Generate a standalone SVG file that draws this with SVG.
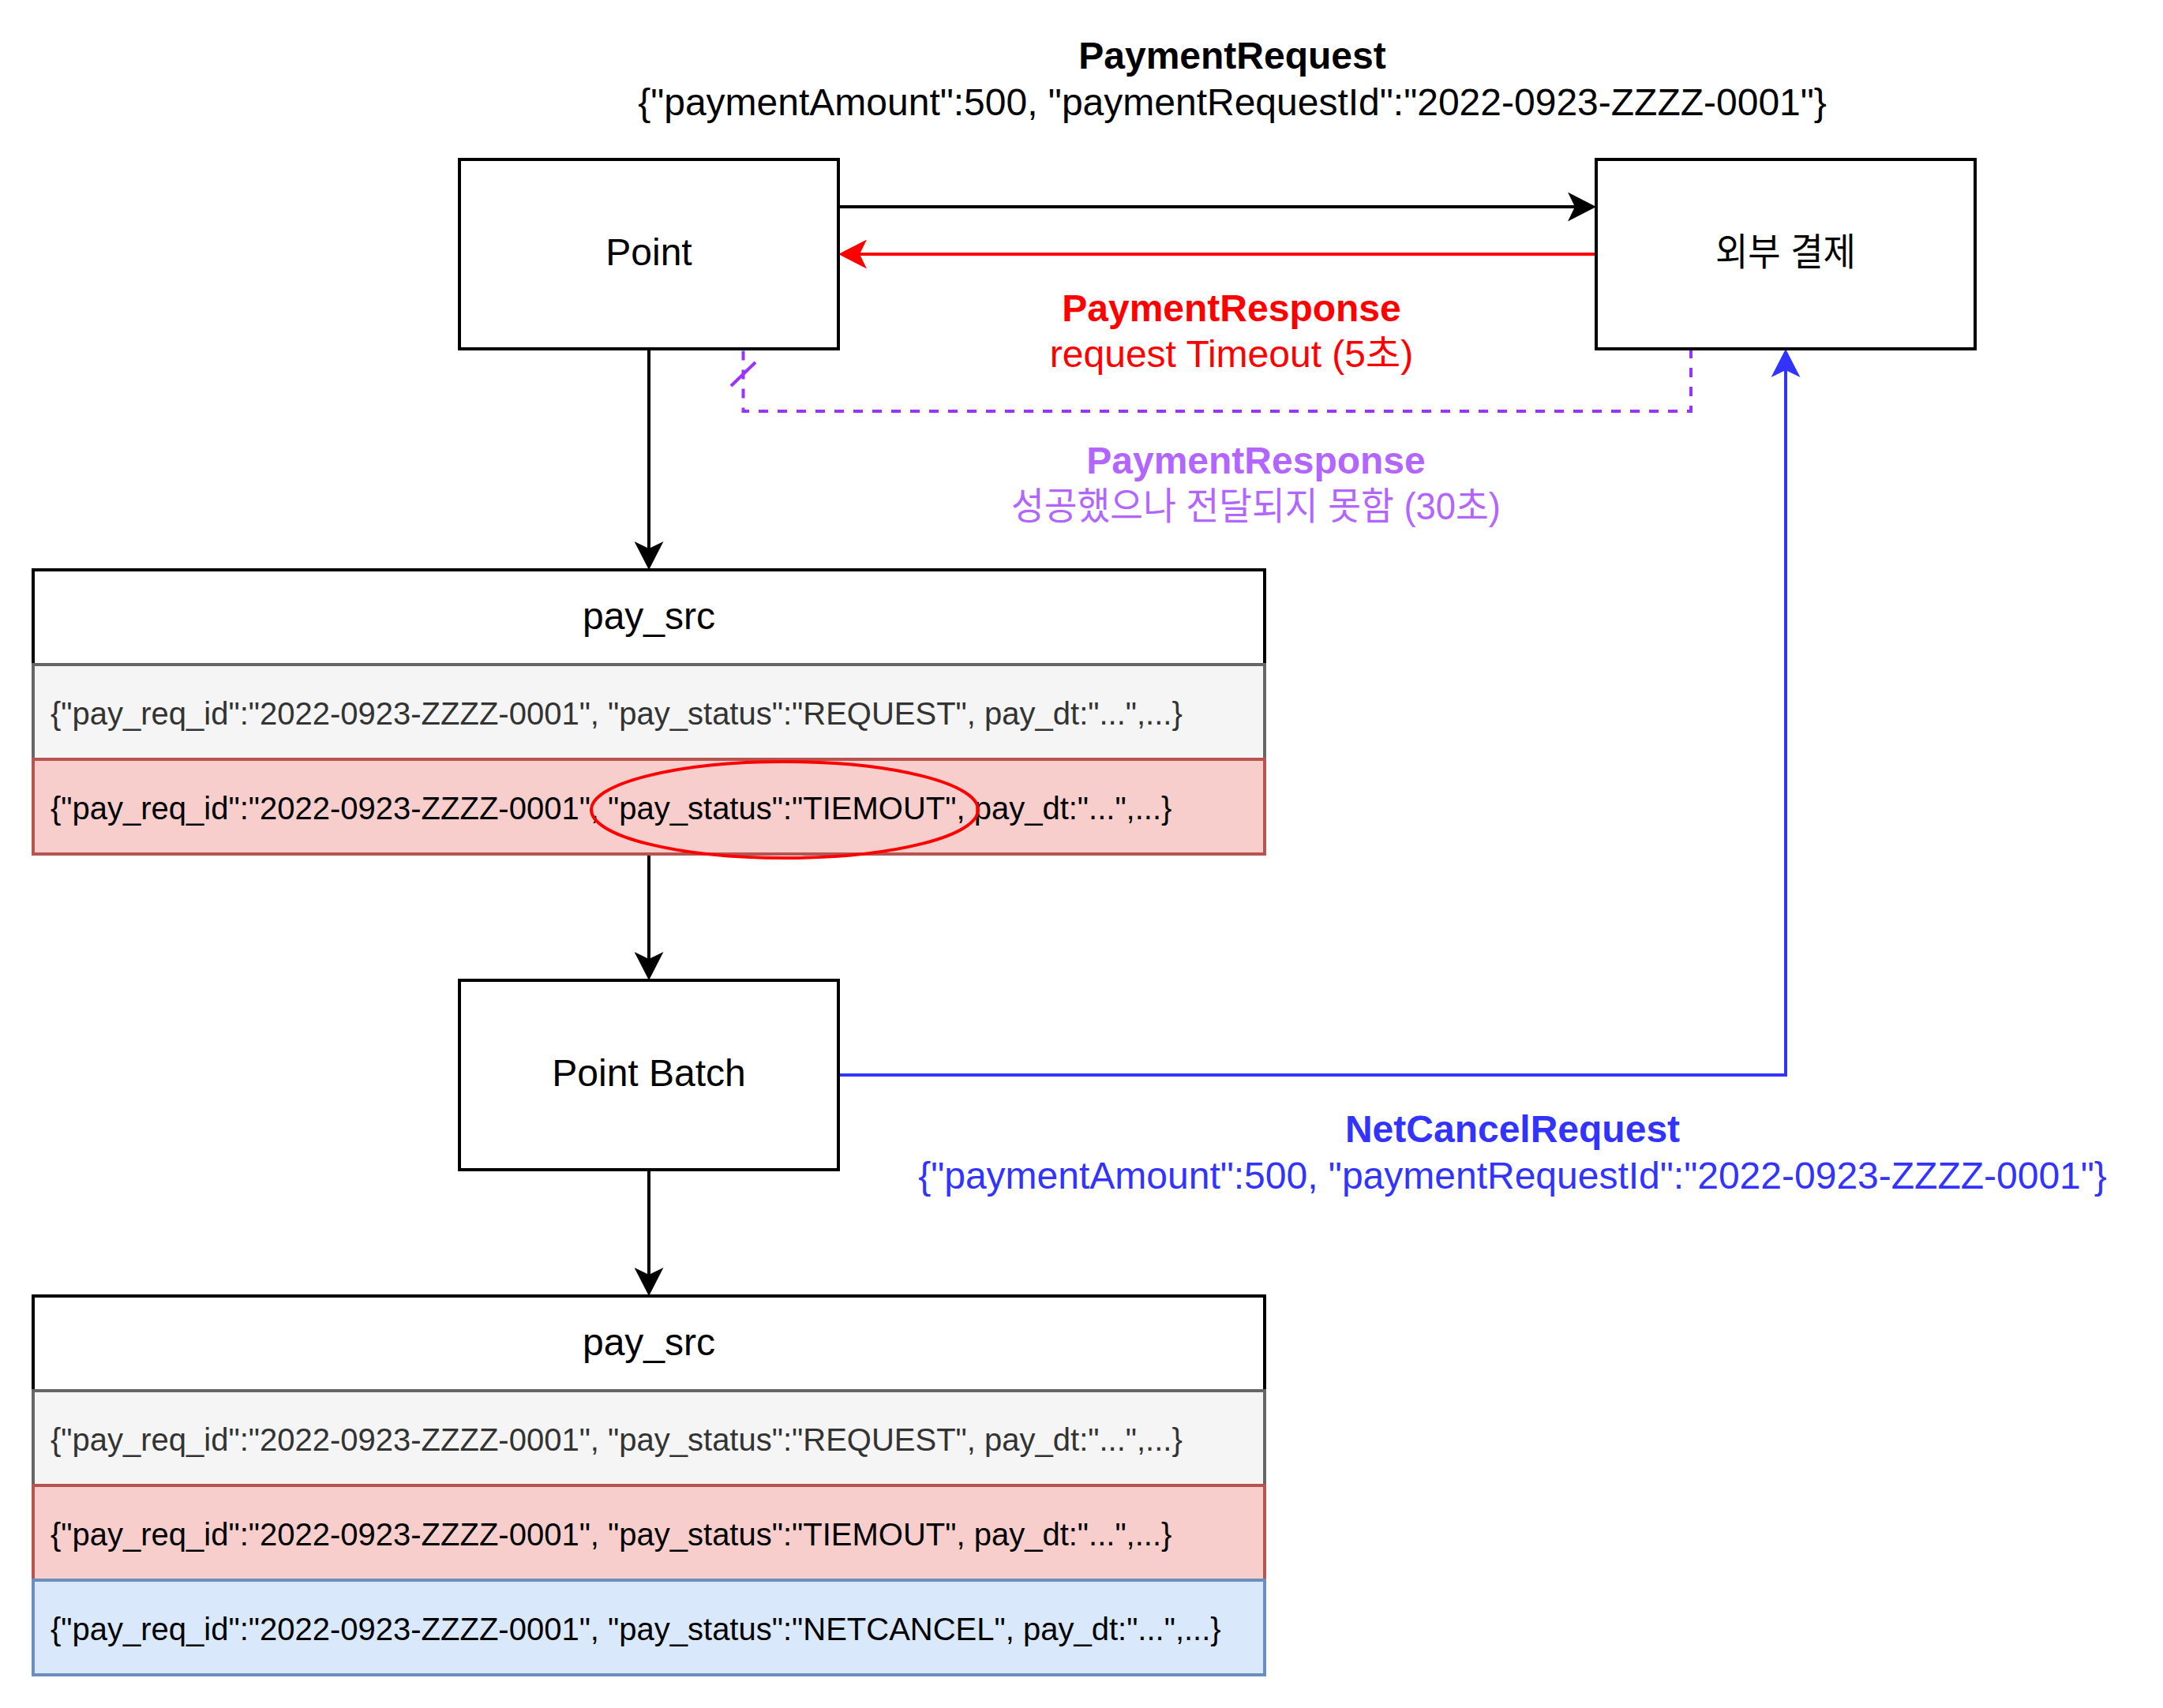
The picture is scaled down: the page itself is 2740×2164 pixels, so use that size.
<svg xmlns="http://www.w3.org/2000/svg" width="2740" height="2164" viewBox="0 0 2740 2164">
<style>
text{font-family:"Liberation Sans","Noto Sans CJK KR",sans-serif;}
.box{fill:#ffffff;stroke:#000000;stroke-width:4;}
.lbl{font-size:48px;fill:#000000;text-anchor:middle;}
.row{font-size:40px;}
.hdr{fill:#ffffff;stroke:#000000;stroke-width:4;}
.r1{fill:#f5f5f5;stroke:#666666;stroke-width:4;}
.r2{fill:#f8cecc;stroke:#b85450;stroke-width:4;}
.r3{fill:#dae8fc;stroke:#6c8ebf;stroke-width:4;}
.edge{fill:none;stroke-width:4;}
.cap{font-size:48px;text-anchor:middle;}
.b{font-weight:bold;}
</style>
<defs>
<marker id="arrowBlack" markerUnits="userSpaceOnUse" viewBox="0 0 36 37" markerWidth="36" markerHeight="37" refX="26" refY="18.5" orient="auto"><path d="M0,0 L36,18.5 L0,37 L9,18.5 Z" fill="#000000"/></marker>
<marker id="arrowRed" markerUnits="userSpaceOnUse" viewBox="0 0 36 37" markerWidth="36" markerHeight="37" refX="26" refY="18.5" orient="auto"><path d="M0,0 L36,18.5 L0,37 L9,18.5 Z" fill="#ff0000"/></marker>
<marker id="arrowBlue" markerUnits="userSpaceOnUse" viewBox="0 0 36 37" markerWidth="36" markerHeight="37" refX="26" refY="18.5" orient="auto"><path d="M0,0 L36,18.5 L0,37 L9,18.5 Z" fill="#3333ff"/></marker>
<marker id="slashPurple" markerUnits="userSpaceOnUse" viewBox="0 0 60 40" markerWidth="60" markerHeight="40" refX="50" refY="20" orient="auto"><path d="M3,4.5 L33,35.5" stroke="#9933ff" stroke-width="4" fill="none" stroke-dasharray="none"/></marker>
</defs>
<rect x="0" y="0" width="2740" height="2164" fill="#ffffff"/>

<g id="connectors">
<path class="edge" d="M1062,262 H2012" stroke="#000000" marker-end="url(#arrowBlack)"/>
<path class="edge" d="M2022,322 H1072" stroke="#ff0000" marker-end="url(#arrowRed)"/>
<path class="edge" d="M2142,442 V521 H941.5 V442" stroke="#9933ff" stroke-dasharray="12 12" marker-end="url(#slashPurple)"/>
<path class="edge" d="M822,442 V712" stroke="#000000" marker-end="url(#arrowBlack)"/>
<path class="edge" d="M822,1082 V1232" stroke="#000000" marker-end="url(#arrowBlack)"/>
<path class="edge" d="M822,1482 V1632" stroke="#000000" marker-end="url(#arrowBlack)"/>
<path class="edge" d="M1062,1362 H2262 V452" stroke="#3333ff" marker-end="url(#arrowBlue)"/>
<g id="label-payment-request">
<text class="cap b" x="1561" y="87" fill="#000000">PaymentRequest</text>
<text class="cap" x="1561" y="146" fill="#000000">{"paymentAmount":500, "paymentRequestId":"2022-0923-ZZZZ-0001"}</text>
</g>
<g id="label-payment-response-timeout">
<text class="cap b" x="1560" y="407" fill="#ff0000">PaymentResponse</text>
<text class="cap" x="1560" y="465" fill="#ff0000">request Timeout (5초)</text>
</g>
<g id="label-payment-response-lost">
<text class="cap b" x="1591" y="600" fill="#b266ff">PaymentResponse</text>
<text class="cap" x="1591" y="658" fill="#b266ff" textLength="620" lengthAdjust="spacingAndGlyphs">성공했으나 전달되지 못함 (30초)</text>
</g>
<g id="label-netcancel">
<text class="cap b" x="1916" y="1447" fill="#3333ff">NetCancelRequest</text>
<text class="cap" x="1916" y="1506" fill="#3333ff">{"paymentAmount":500, "paymentRequestId":"2022-0923-ZZZZ-0001"}</text>
</g>
</g>

<g id="node-point">
<rect class="box" x="582" y="202" width="480" height="240"/>
<text class="lbl" x="822" y="336">Point</text>
</g>

<g id="node-external-payment">
<rect class="box" x="2022" y="202" width="480" height="240"/>
<text class="lbl" x="2262" y="336" textLength="178" lengthAdjust="spacingAndGlyphs">외부 결제</text>
</g>

<g id="node-pay-src-1">
<rect class="hdr" x="42" y="722" width="1560" height="120"/>
<text class="lbl" x="822" y="797">pay_src</text>
<rect class="r1" x="42" y="842" width="1560" height="120"/>
<text class="row" x="64" y="918" fill="#333333">{"pay_req_id":"2022-0923-ZZZZ-0001", "pay_status":"REQUEST", pay_dt:"...",...}</text>
<rect class="r2" x="42" y="962" width="1560" height="120"/>
<text class="row" x="64" y="1038" fill="#000000">{"pay_req_id":"2022-0923-ZZZZ-0001", "pay_status":"TIEMOUT", pay_dt:"...",...}</text>
</g>

<g id="highlight-timeout">
<ellipse cx="994" cy="1026" rx="245" ry="61" fill="none" stroke="#ff0000" stroke-width="4"/>
</g>

<g id="node-point-batch">
<rect class="box" x="582" y="1242" width="480" height="240"/>
<text class="lbl" x="822" y="1376">Point Batch</text>
</g>

<g id="node-pay-src-2">
<rect class="hdr" x="42" y="1642" width="1560" height="120"/>
<text class="lbl" x="822" y="1717">pay_src</text>
<rect class="r1" x="42" y="1762" width="1560" height="120"/>
<text class="row" x="64" y="1838" fill="#333333">{"pay_req_id":"2022-0923-ZZZZ-0001", "pay_status":"REQUEST", pay_dt:"...",...}</text>
<rect class="r2" x="42" y="1882" width="1560" height="120"/>
<text class="row" x="64" y="1958" fill="#000000">{"pay_req_id":"2022-0923-ZZZZ-0001", "pay_status":"TIEMOUT", pay_dt:"...",...}</text>
<rect class="r3" x="42" y="2002" width="1560" height="120"/>
<text class="row" x="64" y="2078" fill="#000000">{"pay_req_id":"2022-0923-ZZZZ-0001", "pay_status":"NETCANCEL", pay_dt:"...",...}</text>
</g>
</svg>
